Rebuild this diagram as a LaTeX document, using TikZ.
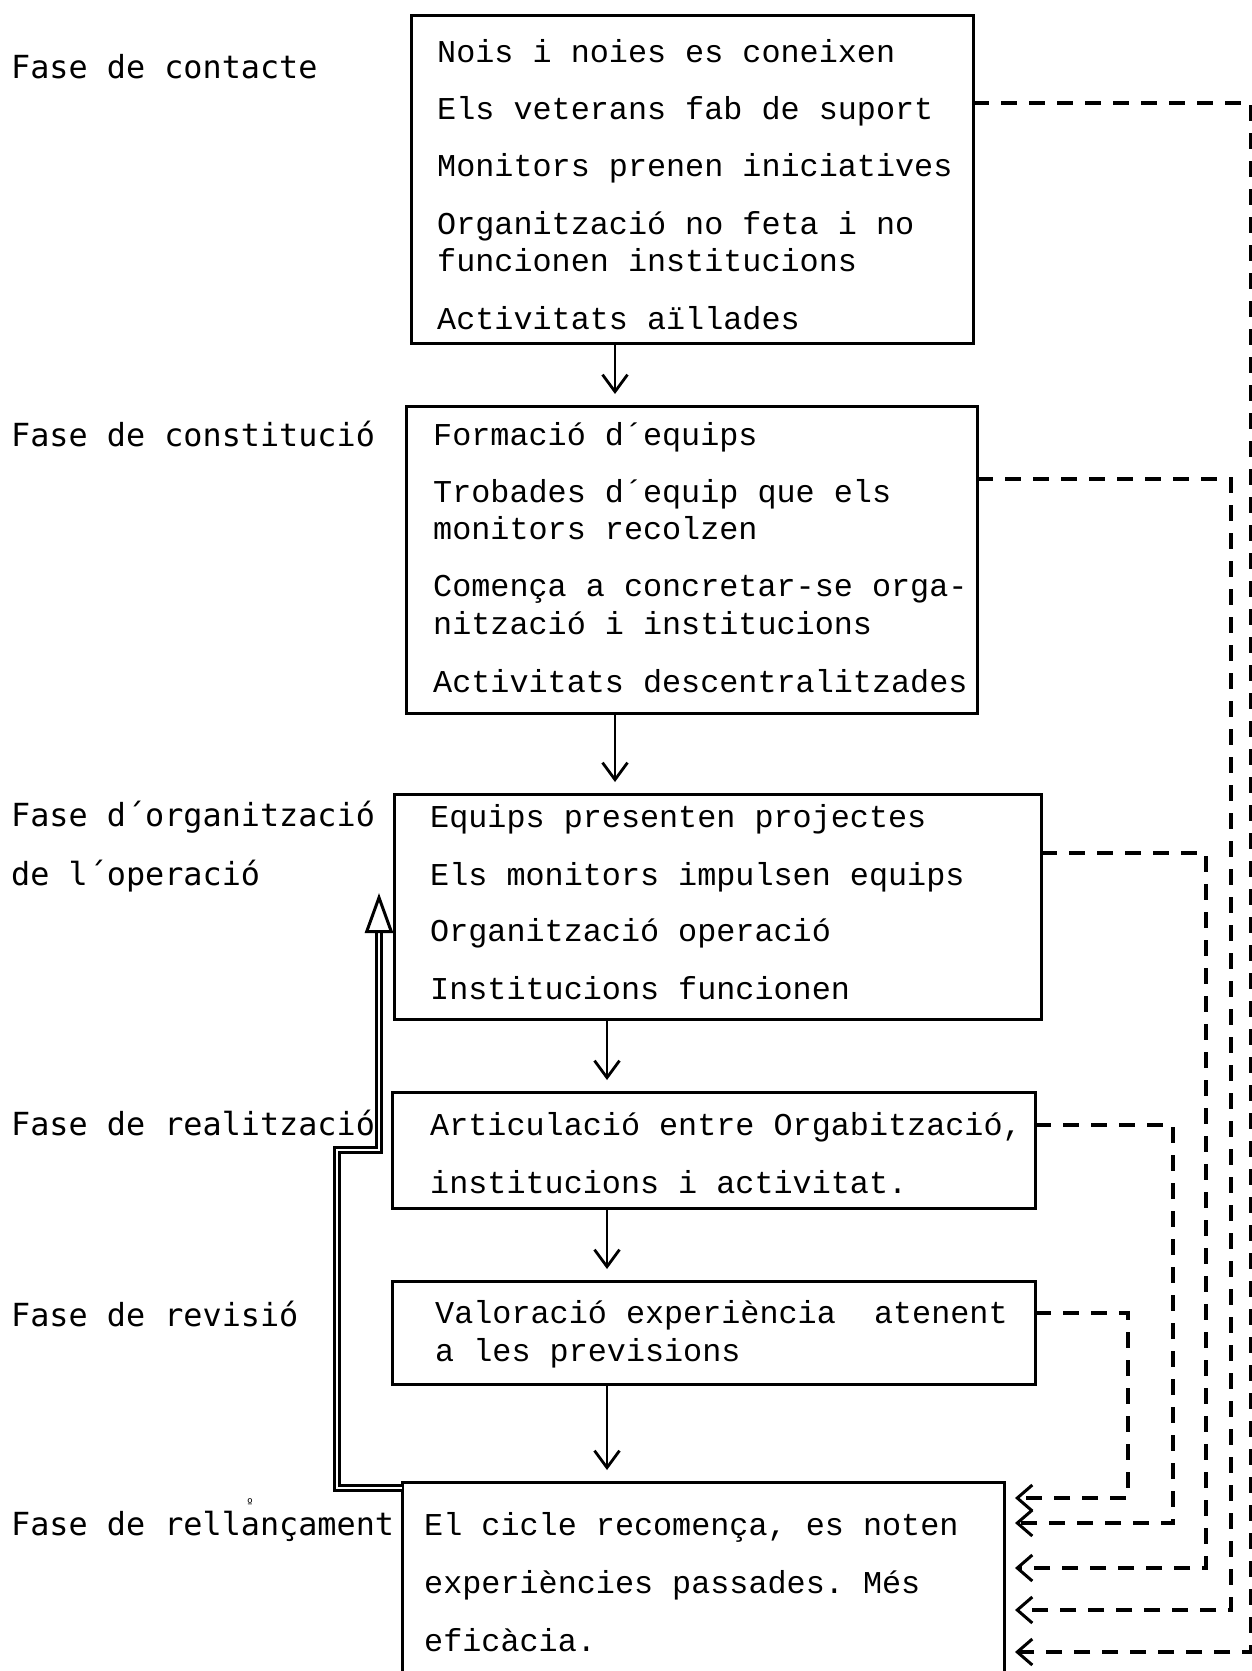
\documentclass[tikz,border=0pt]{standalone}
\usepackage{fontspec}
\setmonofont{Liberation Mono}
\newfontfamily\lblfamily{DejaVu Sans Mono}
\usetikzlibrary{arrows.meta}
\newcommand\bxfont{\ttfamily\fontsize{31.8}{37}\selectfont}
\newcommand\lbfont{\lblfamily\fontsize{31.8}{37}\selectfont}

\begin{document}
\begin{tikzpicture}[x=1pt,y=-1pt,
  stagebox/.style={draw,line width=3pt,inner sep=0pt,outer sep=0pt,anchor=north west},
  ln/.style={anchor=base west,inner sep=0pt,font=\bxfont},
  phase/.style={anchor=base west,inner sep=0pt,font=\lbfont},
  flow/.style={line width=2.8pt,-{Straight Barb[length=17pt,width=25pt,line width=2.8pt]},shorten >=12pt},
  fb/.style={line width=3.2pt,dash pattern=on 16pt off 12pt,
    -{Straight Barb[length=15pt,width=26pt,line width=3pt]},shorten >=11pt},
  loop/.style={double,line width=3pt,double distance=2.6pt,
    -{Triangle[open,length=40pt,width=28pt,line width=3pt]}},
]
\useasboundingbox (0,0) rectangle (1252,1671);
\clip (0,0) rectangle (1252,1671);
\fill[white] (0,0) rectangle (1252,1671);

% stage boxes
\node[stagebox,minimum width=562pt,minimum height=328pt] (b1) at (411,15) {};
\node[stagebox,minimum width=571pt,minimum height=307pt] (b2) at (406,406) {};
\node[stagebox,minimum width=647pt,minimum height=225pt] (b3) at (394,794) {};
\node[stagebox,minimum width=643pt,minimum height=116pt] (b4) at (392,1092) {};
\node[stagebox,minimum width=643pt,minimum height=103pt] (b5) at (392,1281) {};
\node[stagebox,minimum width=602pt,minimum height=240pt] (b6) at (402,1482) {};

% box contents
\node[ln] (t11) at (437,62) {Nois i noies es coneixen};
\node[ln] (t12) at (437,119) {Els veterans fab de suport};
\node[ln] (t13) at (437,176) {Monitors prenen iniciatives};
\node[ln] (t14) at (437,234) {Organització no feta i no};
\node[ln] (t15) at (437,271) {funcionen institucions};
\node[ln] (t16) at (437,329) {Activitats aïllades};

\node[ln] (t21) at (433,445) {Formació d´equips};
\node[ln] (t22) at (433,502) {Trobades d´equip que els};
\node[ln] (t23) at (433,539) {monitors recolzen};
\node[ln] (t24) at (433,596) {Comença a concretar-se orga-};
\node[ln] (t25) at (433,634) {nització i institucions};
\node[ln] (t26) at (433,692) {Activitats descentralitzades};

\node[ln] (t31) at (430,827) {Equips presenten projectes};
\node[ln] (t32) at (430,885) {Els monitors impulsen equips};
\node[ln] (t33) at (430,941) {Organització operació};
\node[ln] (t34) at (430,999) {Institucions funcionen};

\node[ln] (t41) at (430,1135) {Articulació entre Orgabització,};
\node[ln] (t42) at (430,1193) {institucions i activitat.};

\node[ln] (t51) at (435,1323) {Valoració experiència~ atenent};
\node[ln] (t52) at (435,1361) {a les previsions};

\node[ln] (t61) at (424,1535) {El cicle recomença, es noten};
\node[ln] (t62) at (424,1593) {experiències passades. Més};
\node[ln] (t63) at (424,1651) {eficàcia.};

% phase names
\node[phase] (p1) at (11,78) {Fase de contacte};
\node[phase] (p2) at (11,446) {Fase de constitució};
\node[phase] (p3) at (11,826) {Fase d´organització};
\node[phase] (p3b) at (11,885) {de l´operació};
\node[phase] (p4) at (11,1135) {Fase de realització};
\node[phase] (p5) at (11,1326) {Fase de revisió};
\node[phase] (p6) at (11,1535) {Fase de rellançament};
\node[inner sep=0pt,font=\lblfamily\fontsize{12}{12}\selectfont] (p6m) at (250,1503) {º};

% main sequence
\coordinate (ax1) at (615,0);
\coordinate (ax2) at (607,0);
\draw[flow] (b1.south -| ax1) -- (b2.north -| ax1);
\draw[flow] (b2.south -| ax1) -- (b3.north -| ax1);
\draw[flow] (b3.south -| ax2) -- (b4.north -| ax2);
\draw[flow] (b4.south -| ax2) -- (b5.north -| ax2);
\draw[flow] (b5.south -| ax2) -- (b6.north -| ax2);

% return to the organisation phase
\coordinate (r0) at (337,1488);
\coordinate (r1) at (337,1150);
\coordinate (r2) at (379,1150);
\coordinate (r3) at (379,893);
\draw[loop] (b6.west |- r0) -- (r0) -- (r1) -- (r2) -- (r3);

% feedback from every phase to the relaunch
\coordinate (s1) at (1251,103);  \coordinate (e1) at (1251,1652);
\coordinate (s2) at (1231,479);  \coordinate (e2) at (1231,1610);
\coordinate (s3) at (1206,853);  \coordinate (e3) at (1206,1568);
\coordinate (s4) at (1173,1125); \coordinate (e4) at (1173,1523);
\coordinate (s5) at (1128,1313); \coordinate (e5) at (1128,1498);
\draw[fb] (b1.east |- s1) -- (s1) -- (e1) -- (b6.east |- e1);
\draw[fb] (b2.east |- s2) -- (s2) -- (e2) -- (b6.east |- e2);
\draw[fb] (b3.east |- s3) -- (s3) -- (e3) -- (b6.east |- e3);
\draw[fb] (b4.east |- s4) -- (s4) -- (e4) -- (b6.east |- e4);
\draw[fb] (b5.east |- s5) -- (s5) -- (e5) -- (b6.east |- e5);
\end{tikzpicture}
\end{document}
